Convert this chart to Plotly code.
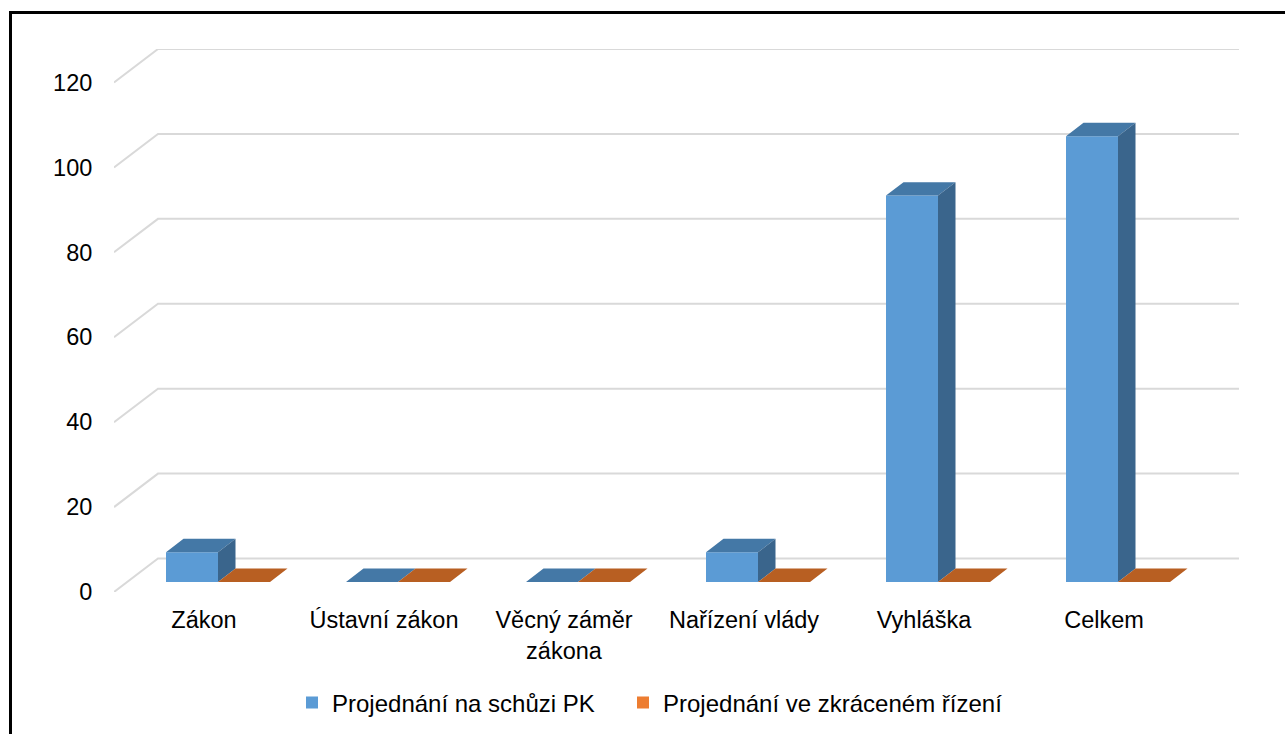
import plotly.graph_objects as go

categories = ["Zákon", "Ústavní zákon", "Věcný záměr<br>zákona", "Nařízení vlády", "Vyhláška", "Celkem"]
meeting = [7, 0, 0, 7, 91, 105]
shortened = [0, 0, 0, 0, 0, 0]
series_names = ["Projednání na schůzi PK", "Projednání ve zkráceném řízení"]
y_ticks = [0, 20, 40, 60, 80, 100, 120]

W, H = 1285, 734
L, R, T, B = 114, 1239, 48.5, 592
PX_X, PX_Y = 180.0, 4.25          # pixels per category, pixels per value unit
xmin = -0.5
xmax = xmin + (R - L) / PX_X
ymax = (B - T) / PX_Y
# 3D projection offsets, in axis units
WALL_DX, WALL_DY = 44 / PX_X, 33.5 / PX_Y
BAR_DX, BAR_DY = 17.5 / PX_X, 13.5 / PX_Y
BASE = 10 / PX_Y
BAR_W = 52 / PX_X
OFFSETS = [-12 / PX_X, 40 / PX_X]
FONT = "Liberation Sans, Arial, sans-serif"
FS = 23.5
COLORS = [
    dict(front="#5B9BD5", top="#4478A6", side="#3A658C"),
    dict(front="#ED7D31", top="#B85F22", side="#9A4F1C"),
]
LEGENDS = ["legend", "legend2"]

fig = go.Figure()
idx = list(range(len(categories)))
for values, name, off, c, lg in zip([meeting, shortened], series_names, OFFSETS, COLORS, LEGENDS):
    fig.add_trace(go.Bar(x=[i + off for i in idx], y=values, base=[BASE] * len(values), width=BAR_W,
                         name=name, legend=lg, marker=dict(color=c["front"], line=dict(width=0)), hoverinfo="y"))
for values, off, c in zip([meeting, shortened], OFFSETS, COLORS):
    tx, ty, sx, sy = [], [], [], []
    for i, v in zip(idx, values):
        xl = i + off - BAR_W / 2
        xr = xl + BAR_W
        h = BASE + v
        tx += [xl, xr, xr + BAR_DX, xl + BAR_DX, xl, None]
        ty += [h, h, h + BAR_DY, h + BAR_DY, h, None]
        if v > 0:
            sx += [xr, xr + BAR_DX, xr + BAR_DX, xr, xr, None]
            sy += [BASE, BASE + BAR_DY, h + BAR_DY, h, BASE, None]
    for px, py, col in ((tx, ty, c["top"]), (sx, sy, c["side"])):
        if px:
            fig.add_trace(go.Scatter(x=px, y=py, mode="lines", fill="toself", fillcolor=col,
                                     line=dict(width=0, color=col), showlegend=False, hoverinfo="skip"))

shapes = []
for t in y_ticks:
    shapes.append(dict(type="path", xref="x", yref="y", layer="below",
                       path=f"M{xmin},{t} L{xmin + WALL_DX},{t + WALL_DY} L{xmax},{t + WALL_DY}",
                       line=dict(color="#D9D9D9", width=2)))
# outer frame, running off the right and bottom of the page
shapes.append(dict(type="rect", xref="paper", yref="paper", layer="below",
                   x0=(10.5 - L) / (R - L), x1=(W + 20 - L) / (R - L),
                   y0=(B - (H + 20)) / (B - T), y1=(B - 12) / (B - T),
                   line=dict(color="#000000", width=3)))


def legend_at(px_left, px_mid):
    return dict(orientation="h", xref="container", yref="container",
                x=px_left / W, xanchor="left", y=(H - px_mid) / H, yanchor="middle",
                font=dict(size=24), bgcolor="rgba(0,0,0,0)", borderwidth=0)


fig.update_layout(
    width=W, height=H, autosize=False,
    margin=dict(l=L, r=W - R, t=T, b=H - B, pad=0),
    paper_bgcolor="#FFFFFF", plot_bgcolor="rgba(0,0,0,0)",
    barmode="overlay", shapes=shapes,
    font=dict(family=FONT, size=FS, color="#000000"),
    xaxis=dict(range=[xmin, xmax], tickmode="array", tickvals=idx, ticktext=categories,
               showgrid=False, zeroline=False, showline=False,
               ticks="outside", ticklen=7, tickcolor="rgba(0,0,0,0)", tickfont=dict(size=FS)),
    yaxis=dict(range=[0, ymax], tickmode="array", tickvals=y_ticks,
               showgrid=False, zeroline=False, showline=False,
               ticks="outside", ticklen=16, tickcolor="rgba(0,0,0,0)", tickfont=dict(size=FS)),
    legend=legend_at(292, 703),
    legend2=legend_at(623, 703),
    showlegend=True,
)

fig.write_html("out.html", config=dict(displayModeBar=False),
               post_script="document.body.style.margin='0';document.body.style.overflow='hidden';")
